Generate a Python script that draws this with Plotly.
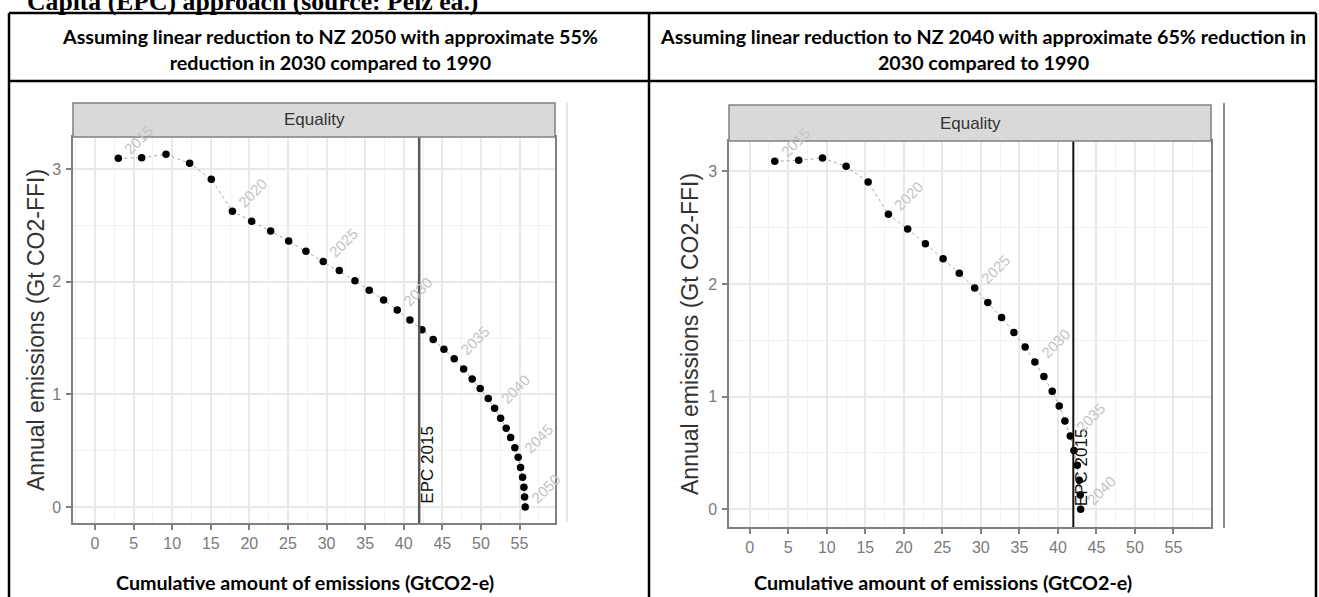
import plotly.graph_objects as go

W, H = 1319, 597

# ---------------- data ----------------
years_a = list(range(2015, 2051))
cum_a = [3.02, 6.05, 9.20, 12.26, 15.07, 17.80, 20.30, 22.76, 25.09, 27.33,
         29.57, 31.65, 33.68, 35.53, 37.40, 39.16, 40.80, 42.36, 43.82, 45.21,
         46.54, 47.76, 48.87, 49.91, 50.95, 51.77, 52.55, 53.28, 53.85, 54.40,
         54.83, 55.14, 55.40, 55.57, 55.66, 55.74]
ann_a = [3.095, 3.10, 3.13, 3.05, 2.91, 2.625, 2.536, 2.45, 2.36, 2.27,
         2.18, 2.098, 2.009, 1.924, 1.838, 1.749, 1.660, 1.574, 1.487, 1.401,
         1.316, 1.225, 1.137, 1.051, 0.962, 0.877, 0.788, 0.699, 0.616, 0.527,
         0.442, 0.350, 0.264, 0.176, 0.088, 0.0]

years_b = list(range(2015, 2041))
cum_b = [3.25, 6.36, 9.44, 12.51, 15.37, 18.00, 20.50, 22.80, 25.10, 27.20,
         29.20, 30.90, 32.69, 34.29, 35.75, 37.01, 38.18, 39.26, 40.17, 40.91,
         41.60, 42.08, 42.51, 42.77, 42.90, 42.95]
ann_b = [3.089, 3.098, 3.118, 3.044, 2.905, 2.618, 2.488, 2.358, 2.225, 2.095,
         1.964, 1.835, 1.702, 1.569, 1.441, 1.308, 1.178, 1.048, 0.917, 0.784,
         0.651, 0.522, 0.391, 0.258, 0.128, 0.0]

label_years_a = [2015, 2020, 2025, 2030, 2035, 2040, 2045, 2050]
label_years_b = [2015, 2020, 2025, 2030, 2035, 2040]
epc_2015 = 42.0
x_ticks = [0, 5, 10, 15, 20, 25, 30, 35, 40, 45, 50, 55]
y_ticks = [0, 1, 2, 3]

doc_title = "Capita (EPC) approach (source: Pelz ea.)"
header_a = "Assuming linear reduction to NZ 2050 with approximate 55%<br>reduction in 2030 compared to 1990"
header_b = "Assuming linear reduction to NZ 2040 with approximate 65% reduction in<br>2030 compared to 1990"
x_title = "Cumulative amount of emissions (GtCO2-e)"
y_title = "Annual emissions (Gt CO2-FFI)"
strip_label = "Equality"
epc_label = "EPC 2015"

# ---------------- layout helpers ----------------
def px(x):
    return x / W

def py(y):
    return 1 - y / H

panels = {
    "a": dict(left=73, right=555, top=137, bottom=523, strip_top=103,
              xr=[-2.85, 59.6], yr=[-0.142, 3.284], ytitle_x=36,
              epc_color="#5a5a5a", epc_w=2.5, side_line_x=567,
              side_line=dict(color="#dedede", width=1.5), side_line_y=(103, 522)),
    "b": dict(left=729, right=1211, top=141, bottom=527, strip_top=105,
              xr=[-2.69, 59.87], yr=[-0.157, 3.269], ytitle_x=690,
              epc_color="#111111", epc_w=2, side_line_x=1224,
              side_line=dict(color="#8c8c8c", width=2), side_line_y=(103, 528)),
}

tick_font = dict(family="Liberation Sans, Arial", size=16, color="#7a7a7a")
grid_major = "#e9e9e9"
grid_minor = "#f2f2f2"
border_col = "#808080"

fig = go.Figure()

datasets = {"a": (years_a, cum_a, ann_a, label_years_a, ""),
            "b": (years_b, cum_b, ann_b, label_years_b, "2")}

annotations = []
shapes = []

for key, (yrs, cx, cy, lab_years, sfx) in datasets.items():
    p = panels[key]
    xref = "x" + sfx
    yref = "y" + sfx
    fig.add_trace(go.Scatter(
        x=cx, y=cy, mode="lines+markers", xaxis=xref, yaxis=yref,
        line=dict(color="#a8a8a8", width=1, dash="dot"),
        marker=dict(color="black", size=7.5),
        showlegend=False, hoverinfo="skip"))

    axis_common = dict(showline=True, linecolor=border_col, linewidth=1.5, mirror=True,
                       ticks="outside", ticklen=5, tickwidth=1.5, tickcolor=border_col,
                       tickfont=tick_font, zeroline=False, showgrid=True,
                       gridcolor=grid_major, gridwidth=1.5, fixedrange=True)
    fig.layout["xaxis" + sfx] = dict(
        domain=[px(p["left"]), px(p["right"])], range=p["xr"], anchor=yref,
        tickvals=x_ticks, ticklabelstandoff=0,
        minor=dict(dtick=2.5, tick0=0, showgrid=True, gridcolor=grid_minor,
                   gridwidth=1, ticks=""),
        **axis_common)
    fig.layout["yaxis" + sfx] = dict(
        domain=[py(p["bottom"]), py(p["top"])], range=p["yr"], anchor=xref,
        tickvals=y_ticks, ticklabelstandoff=2,
        minor=dict(dtick=0.5, tick0=0, showgrid=True, gridcolor=grid_minor,
                   gridwidth=1, ticks=""),
        **axis_common)

    # EPC 2015 vertical line
    shapes.append(dict(type="line", xref=xref, yref=yref + " domain",
                       x0=epc_2015, x1=epc_2015, y0=0, y1=1, layer="above",
                       line=dict(color=p["epc_color"], width=p["epc_w"])))
    annotations.append(dict(x=epc_2015, y=0, xref=xref, yref=yref, text=epc_label,
                            textangle=-90, xanchor="left", yanchor="bottom",
                            xshift=-4, yshift=1, showarrow=False,
                            font=dict(family="Liberation Sans, Arial", size=17, color="#111111")))

    # year labels
    for yr in lab_years:
        i = yrs.index(yr)
        annotations.append(dict(x=cx[i], y=cy[i], xref=xref, yref=yref, text=str(yr),
                                textangle=-45, xanchor="left", yanchor="bottom",
                                xshift=0, yshift=-2, showarrow=False,
                                font=dict(family="Liberation Sans, Arial", size=15, color="#c4c4c4")))

    # strip
    shapes.append(dict(type="rect", xref="paper", yref="paper",
                       x0=px(p["left"]), x1=px(p["right"]),
                       y0=py(p["top"]), y1=py(p["strip_top"]),
                       fillcolor="#d9d9d9", line=dict(color=border_col, width=1.5), layer="above"))
    annotations.append(dict(x=px((p["left"] + p["right"]) / 2), y=py((p["top"] + p["strip_top"]) / 2),
                            xref="paper", yref="paper", text=strip_label, showarrow=False,
                            xanchor="center", yanchor="middle",
                            font=dict(family="Liberation Sans, Arial", size=17, color="#333333")))

    # y axis title
    annotations.append(dict(x=px(p["ytitle_x"]), y=py((p["top"] + p["bottom"]) / 2),
                            xref="paper", yref="paper", text=y_title, textangle=-90,
                            showarrow=False, xanchor="center", yanchor="middle",
                            font=dict(family="Liberation Sans, Arial", size=23, color="#333333")))

    # light vertical line at right of each embedded chart image
    shapes.append(dict(type="line", xref="paper", yref="paper",
                       x0=px(p["side_line_x"]), x1=px(p["side_line_x"]),
                       y0=py(p["side_line_y"][1]), y1=py(p["side_line_y"][0]),
                       line=p["side_line"]))

# ---------------- document table ----------------
tbl = dict(color="black", width=2.5)
table_left, table_mid, table_right = 9, 649, 1316
table_top, header_bottom = 13, 81
for (x0, y0, x1, y1) in [(table_left, table_top, table_right, table_top),
                         (table_left, header_bottom, table_right, header_bottom),
                         (table_left, table_top, table_left, H + 5),
                         (table_mid, table_top, table_mid, H + 5),
                         (table_right, table_top, table_right, H + 5)]:
    shapes.append(dict(type="line", xref="paper", yref="paper",
                       x0=px(x0), x1=px(x1), y0=py(y0), y1=py(y1), line=tbl))

doc_font = dict(family="Lato, Carlito, Calibri, sans-serif", size=19.7, color="#000000")
annotations.append(dict(x=px(329.5), y=py(50), xref="paper", yref="paper",
                        text="<b>" + header_a.replace("<br>", "</b><br><b>") + "</b>",
                        showarrow=False, xanchor="center", yanchor="middle", font=doc_font))
annotations.append(dict(x=px(982.5), y=py(50), xref="paper", yref="paper",
                        text="<b>" + header_b.replace("<br>", "</b><br><b>") + "</b>",
                        showarrow=False, xanchor="center", yanchor="middle", font=doc_font))
annotations.append(dict(x=px(304.5), y=py(582), xref="paper", yref="paper",
                        text="<b>" + x_title + "</b>", showarrow=False,
                        xanchor="center", yanchor="middle", font=doc_font))
annotations.append(dict(x=px(942.5), y=py(582), xref="paper", yref="paper",
                        text="<b>" + x_title + "</b>", showarrow=False,
                        xanchor="center", yanchor="middle", font=doc_font))
annotations.append(dict(x=px(25), y=py(2), xref="paper", yref="paper",
                        text="<b>" + doc_title + "</b>", showarrow=False,
                        xanchor="left", yanchor="middle",
                        font=dict(family="Liberation Serif, Times New Roman, serif", size=25.7, color="#000000")))

fig.update_layout(width=W, height=H, margin=dict(l=0, r=0, t=0, b=0),
                  paper_bgcolor="white", plot_bgcolor="white", showlegend=False,
                  shapes=shapes, annotations=annotations)

fig.write_html("out.html")
